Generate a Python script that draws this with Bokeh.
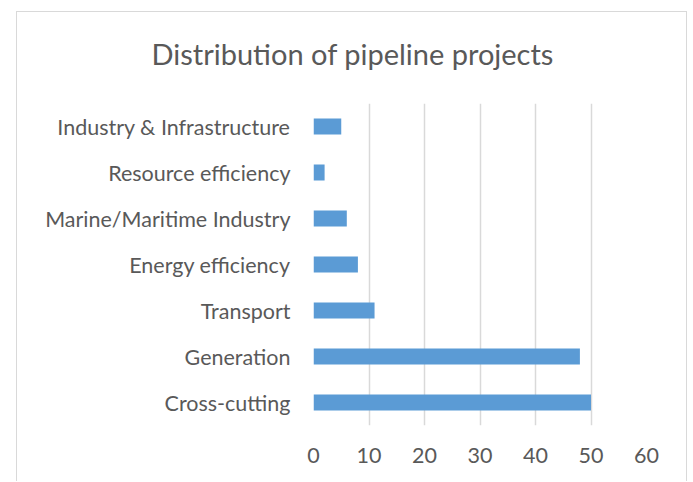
from bokeh.plotting import figure
from bokeh.models import Range1d, FixedTicker, Title
from bokeh.embed import file_html
from bokeh.resources import INLINE

categories = ["Cross-cutting", "Generation", "Transport", "Energy efficiency",
              "Marine/Maritime Industry", "Resource efficiency", "Industry & Infrastructure"]
values = [50, 48, 11, 8, 6, 2, 5]
x_ticks = [0, 10, 20, 30, 40, 50, 60]
title_text = "Distribution of pipeline projects"

TEXT = "#595959"
FONT = "Lato"

p = figure(y_range=categories, x_range=Range1d(0, 60),
           width=671, height=470,
           output_backend="svg", toolbar_location=None,
           min_border_left=296, min_border_right=42,
           min_border_top=91, min_border_bottom=57,
           margin=(11, 0, 0, 16),
           styles={"border-top": "1px solid #d9d9d9",
                   "border-left": "1px solid #d9d9d9",
                   "border-right": "1px solid #d9d9d9"})
p.title = None

p.hbar(y=categories, right=values, height=0.35, color="#5b9bd5", line_color=None)

# spacer between the title and the plot area
p.add_layout(Title(text=" ", text_font_size="10px", standoff=20), "above")
p.add_layout(Title(text=title_text, align="left", offset=-162,
                   vertical_align="bottom", standoff=0,
                   text_font=FONT, text_font_size="29px",
                   text_font_style="normal", text_color=TEXT), "above")

p.outline_line_color = None
p.ygrid.grid_line_color = None
p.xgrid.grid_line_color = "#d9d9d9"
p.xgrid.grid_line_width = 1.5

p.xaxis.ticker = FixedTicker(ticks=x_ticks)
for ax in (p.xaxis, p.yaxis):
    ax.axis_line_color = None
    ax.major_tick_line_color = None
    ax.minor_tick_line_color = None
    ax.major_label_text_font = FONT
    ax.major_label_text_font_size = "21.5px"
    ax.major_label_text_color = TEXT
p.yaxis.major_label_standoff = 17
p.xaxis.major_label_standoff = 16

open("out.html", "w").write(file_html(p, INLINE))
